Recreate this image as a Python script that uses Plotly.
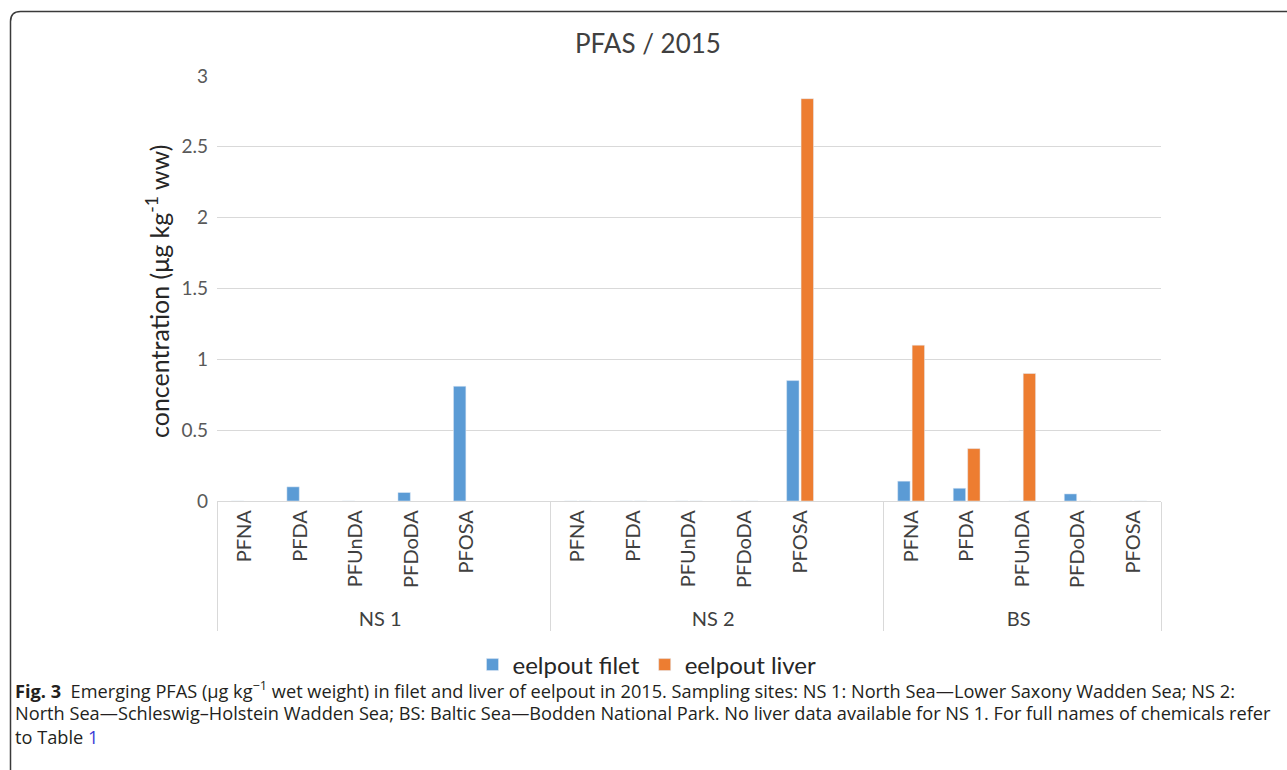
import plotly.graph_objects as go

# ---- data ----
sites = ["NS 1"] * 6 + ["NS 2"] * 6 + ["BS"] * 5
chemicals = ["PFNA", "PFDA", "PFUnDA", "PFDoDA", "PFOSA", " ",
             "PFNA", "PFDA", "PFUnDA", "PFDoDA", "PFOSA", " ",
             "PFNA", "PFDA", "PFUnDA", "PFDoDA", "PFOSA"]
filet = [0, 0.10, 0, 0.06, 0.81, None,
         0, 0, 0, 0, 0.85, None,
         0.14, 0.09, 0, 0.05, 0]
liver = [None, None, None, None, None, None,
         0, 0, 0, 0, 2.84, None,
         1.10, 0.37, 0.90, 0, 0]
y_ticks = [0, 0.5, 1, 1.5, 2, 2.5, 3]
y_tick_labels = ["0", "0.5", "1", "1.5", "2", "2.5", "3"]

W, H = 1287, 770
L, R, T, B = 217, 1161, 76, 501


def px(x):
    return (x - L) / (R - L)


def py(y):
    return (B - y) / (B - T)


FONT = "Lato"
fig = go.Figure()
fig.add_trace(go.Bar(x=[sites, chemicals], y=filet, name="eelpout filet",
                     marker_color="#5B9BD5"))
fig.add_trace(go.Bar(x=[sites, chemicals], y=liver, name="eelpout liver",
                     marker_color="#ED7D31"))

fig.update_layout(
    width=W, height=H,
    margin=dict(l=L, r=W - R, t=T, b=H - B),
    paper_bgcolor="white", plot_bgcolor="white",
    barmode="group", bargap=0.48, bargroupgap=0.14,
    font=dict(family=FONT, color="#595959"),
    showlegend=True,
    legend=dict(orientation="h", x=px(647), xanchor="center", y=py(665), yanchor="middle",
                font=dict(size=24, color="#262626", family=FONT), itemwidth=30,
                traceorder="normal"),
)
fig.update_yaxes(range=[0, 3], tickvals=y_ticks, ticktext=y_tick_labels,
                 showgrid=True, gridcolor="#d9d9d9", gridwidth=1.3,
                 zeroline=False, showline=False, ticks="",
                 ticklabelstandoff=8,
                 tickfont=dict(size=19, color="#595959", family=FONT))
fig.update_xaxes(type="multicategory", tickangle=-90, showline=True,
                 linecolor="#d9d9d9", linewidth=1.3, ticks="",
                 showdividers=True, dividercolor="#d9d9d9", dividerwidth=1.3,
                 showgrid=False,
                 tickfont=dict(size=20, color="#404040", family=FONT))

# title
fig.add_annotation(text="PFAS / 2015", xref="paper", yref="paper", x=px(648), y=py(43),
                   showarrow=False, xanchor="center", yanchor="middle",
                   font=dict(size=26, color="#404040", family=FONT))
# y-axis title
fig.add_annotation(text="concentration (μg kg<sup>-1</sup> ww)", xref="paper", yref="paper",
                   x=px(157), y=py(292), textangle=-90, showarrow=False,
                   xanchor="center", yanchor="middle",
                   font=dict(size=25, color="#262626", family=FONT))

# caption
CAP = "Open Sans"
cap_lines = [
    "<b>Fig. 3</b>  Emerging PFAS (µg kg<sup>−1</sup> wet weight) in filet and liver of eelpout in 2015. Sampling sites: NS 1: North Sea—Lower Saxony Wadden Sea; NS 2:",
    "North Sea—Schleswig–Holstein Wadden Sea; BS: Baltic Sea—Bodden National Park. No liver data available for NS 1. For full names of chemicals refer",
    "to Table <span style='color:#3b3bd6'>1</span>",
]
for i, line in enumerate(cap_lines):
    fig.add_annotation(text=line, xref="paper", yref="paper", x=px(13), y=py(689 + 24 * i),
                       showarrow=False, xanchor="left", yanchor="middle", align="left",
                       font=dict(size=18.2, color="#231f20", family=CAP))

# rounded border
r = 10
x0, y0, x1, y1 = 10.5, 11.5, 1300, 800
path = (f"M {px(x0)},{py(y1)} L {px(x0)},{py(y0 + r)} "
        f"Q {px(x0)},{py(y0)} {px(x0 + r)},{py(y0)} L {px(x1)},{py(y0)}")
fig.add_shape(type="path", path=path, xref="paper", yref="paper",
              line=dict(color="#3a3a3a", width=1.5))

fig.write_html("out.html", config={"displayModeBar": False},
               post_script="document.body.style.margin='0';document.body.style.overflow='hidden';")
